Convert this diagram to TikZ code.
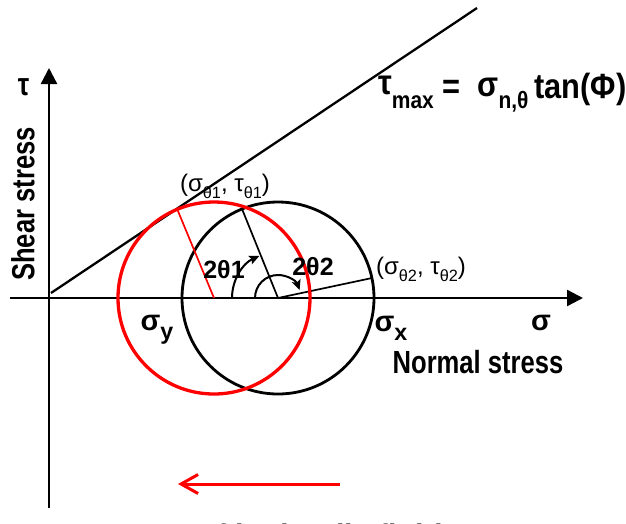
\documentclass[tikz,border=0pt]{standalone}
\usepackage{fontspec}
\setmainfont{Liberation Sans}
\newfontfamily\narrowfont[FakeStretch=0.8]{Liberation Sans}
\newfontfamily\formfont[FakeStretch=0.88]{Liberation Sans}
\usetikzlibrary{arrows.meta}
\newcommand\lo[2][0.3em]{\raisebox{-#1}{\scalebox{0.68}{#2}}}
\newcommand\lob[2][0.3em]{\raisebox{-#1}{\scalebox{0.8}{#2}}}
\tikzset{
  axisline/.style={line width=2.4pt, -{Triangle[length=16pt,width=16pt]}},
  envline/.style={line width=2.3pt},
  blackcircle/.style={line width=2.8pt},
  redcircle/.style={line width=3.3pt, draw=red},
  radline/.style={line width=1.7pt},
  anglearc/.style={line width=2pt, -{Stealth[length=10pt,width=9pt,inset=2pt]}},
  shiftarrow/.style={line width=3pt, draw=red, -{Straight Barb[length=17pt,width=19pt]}},
  axislbl/.style={inner sep=0pt, font=\narrowfont\bfseries\fontsize{32}{36}\selectfont},
  formulalbl/.style={inner sep=0pt, font=\formfont\bfseries\fontsize{35}{40}\selectfont},
  anglelbl/.style={inner sep=0pt, font=\bfseries\fontsize{25}{28}\selectfont},
  ptlbl/.style={inner sep=0pt, font=\fontsize{24}{27}\selectfont},
  siglbl/.style={inner sep=0pt, font=\bfseries\fontsize{29}{33}\selectfont},
  bottomlbl/.style={inner sep=0pt, font=\narrowfont\bfseries\fontsize{38}{42}\selectfont},
}
\begin{document}
\begin{tikzpicture}[x=1pt,y=-1pt,line join=round]
\useasboundingbox (0,0) rectangle (626,523);
\fill[white] (0,0) rectangle (626,523);
% axes
\coordinate (xl) at (10,298);
\coordinate (xr) at (583,298);
\coordinate (yb) at (49,508);
\coordinate (yt) at (49,68);
\draw[axisline] (xl) -- (xr);
\draw[axisline] (yb) -- (yt);
% failure envelope
\coordinate (e0) at (51,293);
\coordinate (e1) at (477,8);
\draw[envline] (e0) -- (e1);
% circles
\coordinate (C) at (278,298);
\coordinate (R) at (214,298);
\draw[blackcircle] (C) circle[radius=96];
\path (C) ++(248:96) coordinate (P1);
\path (C) ++(348:96) coordinate (P2);
\draw[radline] (C) -- (P1);
\draw[radline] (C) -- (P2);
\draw[anglearc] (C) ++(180:46) arc[start angle=180, end angle=246, radius=46];
\draw[anglearc] (C) ++(180:23) arc[start angle=180, end angle=340, radius=23];
\draw[redcircle] (R) circle[radius=96];
\path (R) ++(247.5:96) coordinate (Q1);
\draw[radline, draw=red] (R) -- (Q1);
% labels
\node[axislbl] (tau) at (23.5,87) {τ};
\node[axislbl, rotate=90] (shear) at (23,204) {Shear stress};
\node[axislbl] (normal) at (478,362) {Normal stress};
\node[formulalbl, anchor=base west] (formula) at (378,98)
  {\raisebox{4pt}{τ}\lo[0.3em]{max} =\ \ \raisebox{2pt}{σ}\lo[0.3em]{n,θ}\,tan(Φ)};
\node[ptlbl] (p1lbl) at (225,186) {(σ\lo{θ1}, τ\lo{θ1})};
\node[ptlbl] (p2lbl) at (421,269) {(σ\lo{θ2}, τ\lo{θ2})};
\node[anglelbl] (a1) at (224,270) {2θ1};
\node[anglelbl] (a2) at (313,267) {2θ2};
\node[siglbl] (sy) at (157,330) {σ\lob[0.3em]{y}};
\node[siglbl] (sx) at (391,328) {σ\lob[0.3em]{x}};
\node[siglbl] (s) at (541,323) {σ};
% shift arrow
\coordinate (ar0) at (340,484);
\coordinate (ar1) at (178,484);
\draw[shiftarrow] (ar0) -- (ar1);
% caption, cut off at the lower edge as in the reference
\node[bottomlbl, anchor=base west] (caption) at (66,551) {Increase of hydraulic fluid};
\end{tikzpicture}
\end{document}
